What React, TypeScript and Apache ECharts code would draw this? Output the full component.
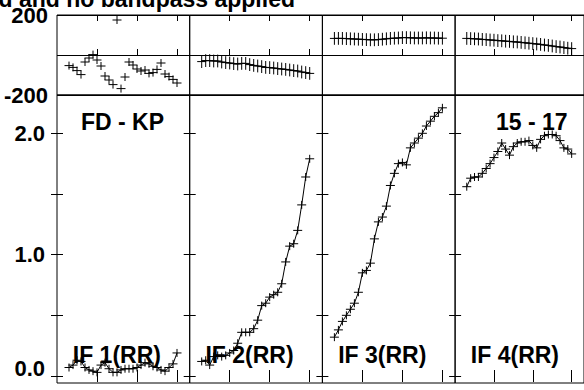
import React, { useEffect, useRef } from 'react';
import * as echarts from 'echarts';

const channels = [3, 4, 5, 6, 7, 8, 9, 10, 11, 12, 13, 14, 15, 16, 17, 18, 19, 20, 21, 22, 23, 24, 25, 26, 27, 28, 29, 30];

const ifLabels = ['IF 1(RR)', 'IF 2(RR)', 'IF 3(RR)', 'IF 4(RR)'];

const phaseIF1 = [-53, -62, -78, -98, -35, -15, 2, -25, -55, -105, -125, -148, 175, -168, -110, -35, -50, -70, -80, -75, -92, -88, -72, -40, -95, -108, -122, -140];
const phaseIF2 = [-33, -28, -28, -30, -30, -35, -38, -40, -43, -45, -42, -42, -48, -52, -55, -58, -62, -63, -65, -68, -70, -72, -75, -78, -80, -85, -88, -92];
const phaseIF3 = [83, 83, 83, 82, 81, 80, 79, 78, 77, 76, 76, 77, 79, 81, 83, 84, 85, 87, 87, 86, 85, 85, 85, 86, 85, 85, 84, 84];
const phaseIF4 = [83, 82, 81, 80, 78, 77, 75, 74, 72, 71, 69, 68, 66, 65, 63, 61, 59, 57, 55, 53, 50, 48, 45, 42, 40, 37, 34, 32];

const ampIF1 = [0.07, 0.09, 0.13, 0.12, 0.07, 0.05, 0.04, 0.03, 0.09, 0.11, 0.06, 0.03, 0.03, 0.05, 0.06, 0.06, 0.06, 0.07, 0.09, 0.11, 0.10, 0.08, 0.07, 0.05, 0.04, 0.07, 0.10, 0.19];
const ampIF2 = [0.12, 0.13, 0.09, 0.16, 0.17, 0.16, 0.17, 0.19, 0.21, 0.27, 0.36, 0.36, 0.36, 0.39, 0.46, 0.58, 0.60, 0.65, 0.67, 0.69, 0.76, 0.94, 1.07, 1.09, 1.20, 1.41, 1.64, 1.79];
const ampIF3 = [0.32, 0.38, 0.45, 0.50, 0.55, 0.60, 0.69, 0.85, 0.87, 0.93, 1.13, 1.27, 1.31, 1.40, 1.57, 1.67, 1.75, 1.76, 1.74, 1.88, 1.92, 1.96, 2.00, 2.06, 2.10, 2.14, 2.17, 2.21];
const ampIF4 = [1.56, 1.63, 1.64, 1.64, 1.67, 1.71, 1.75, 1.80, 1.85, 1.92, 1.87, 1.82, 1.89, 1.92, 1.93, 1.93, 1.94, 1.90, 1.88, 1.95, 1.98, 1.99, 1.99, 1.98, 1.94, 1.88, 1.87, 1.83];

const phaseSeries = [phaseIF1, phaseIF2, phaseIF3, phaseIF4];
const ampSeries = [ampIF1, ampIF2, ampIF3, ampIF4];
const phaseErrors = [0, 32, 32, 32];
const phaseHasLine = [false, true, true, true];

const phaseTickValues = [-200, 0, 200];
const ampTickValues = [0, 0.5, 1, 1.5, 2];
const ampLabelValues = [0, 1, 2];
const channelTickValues = [10, 20, 30];

const titleText = 'd and no bandpass applied';
const baselineText = 'FD - KP';
const timeText = '15 - 17';

// layout (pixels)
const PANEL_LEFT0 = 57;
const PANEL_W = 132.7;
const PHASE_TOP = 15;
const PHASE_H = 80;
const AMP_TOP = 95;
const AMP_H = 288;
const PX_PER_CH = 4;
const X_MAX = PANEL_W / PX_PER_CH;
const AMP_PX_PER_UNIT = 121.35;
const AMP_MIN = -7 / AMP_PX_PER_UNIT;
const AMP_MAX = AMP_MIN + AMP_H / AMP_PX_PER_UNIT;

const FONT = '"Liberation Sans", Arial, Helvetica, sans-serif';

function crossRender(halfW: number, minHalfH: number) {
  return (params: any, api: any) => {
    const x = api.value(0);
    const y = api.value(1);
    const e = api.value(2) || 0;
    const c = api.coord([x, y]);
    const t = api.coord([x, y + e]);
    const h = Math.max(minHalfH, Math.abs(c[1] - t[1]));
    const st = { stroke: '#000', lineWidth: 1 };
    return {
      type: 'group',
      children: [
        { type: 'line', shape: { x1: c[0] - halfW, y1: c[1], x2: c[0] + halfW, y2: c[1] }, style: st },
        { type: 'line', shape: { x1: c[0], y1: c[1] - h, x2: c[0], y2: c[1] + h }, style: st },
      ],
    };
  };
}

function buildOption() {
  const grid: any[] = [];
  const xAxis: any[] = [];
  const yAxis: any[] = [];
  const series: any[] = [];
  const graphic: any[] = [];

  const tickStyle = { color: '#000', width: 1 };

  for (let i = 0; i < 4; i++) {
    const left = PANEL_LEFT0 + i * PANEL_W;
    // phase grid
    const gp = grid.length;
    grid.push({ left, top: PHASE_TOP, width: PANEL_W, height: PHASE_H, show: true, borderColor: '#000', borderWidth: 1, backgroundColor: 'transparent', containLabel: false });
    const ga = grid.length;
    grid.push({ left, top: AMP_TOP, width: PANEL_W, height: AMP_H, show: true, borderColor: '#000', borderWidth: 1, backgroundColor: 'transparent', containLabel: false });

    const xIdx: Record<string, number> = {};
    for (const g of [gp, ga]) {
      for (const pos of ['bottom', 'top']) {
        xIdx[g + pos] = xAxis.length;
        xAxis.push({
          gridIndex: g,
          type: 'value',
          position: pos,
          min: 0,
          max: X_MAX,
          axisLine: { show: false },
          axisTick: { show: true, inside: true, length: 6, customValues: channelTickValues, lineStyle: tickStyle },
          axisLabel: { show: false },
          splitLine: { show: false },
        });
      }
    }

    // phase y axis
    const ypIdx = yAxis.length;
    yAxis.push({
      gridIndex: gp,
      type: 'value',
      position: 'left',
      min: -200,
      max: 200,
      interval: 200,
      axisLine: { show: false },
      axisTick: { show: false },
      axisLabel: {
        show: i === 0,
        margin: 9,
        color: '#000',
        fontSize: 22,
        fontWeight: 'bold',
        fontFamily: FONT,
        padding: [5, 0, 0, 0],
        formatter: (v: number) => (phaseTickValues.indexOf(v) >= 0 && v !== 0 ? String(v) : ''),
      },
      splitLine: { show: true, lineStyle: { color: '#000', width: 1 } },
    });

    // amp y axes
    const yaIdx = yAxis.length;
    yAxis.push({
      gridIndex: ga,
      type: 'value',
      position: 'left',
      min: AMP_MIN,
      max: AMP_MAX,
      axisLine: { show: false },
      axisTick: { show: true, inside: true, length: 6, customValues: ampTickValues, lineStyle: tickStyle },
      axisLabel: {
        show: i === 0,
        customValues: ampLabelValues,
        margin: 12,
        color: '#000',
        fontSize: 22,
        fontWeight: 'bold',
        fontFamily: FONT,
        formatter: (v: number) => (v === 0 ? '{low|0.0}' : v.toFixed(1)),
        rich: {
          low: { fontSize: 22, fontWeight: 'bold', fontFamily: FONT, color: '#000', padding: [0, 0, 16, 0] },
        },
      },
      splitLine: { show: false },
    });
    yAxis.push({
      gridIndex: ga,
      type: 'value',
      position: 'right',
      min: AMP_MIN,
      max: AMP_MAX,
      axisLine: { show: false },
      axisTick: { show: true, inside: true, length: 6, customValues: ampTickValues, lineStyle: tickStyle },
      axisLabel: { show: false },
      splitLine: { show: false },
    });

    const ph = phaseSeries[i];
    const am = ampSeries[i];
    const err = phaseErrors[i];

    if (phaseHasLine[i]) {
      series.push({
        type: 'line',
        xAxisIndex: xIdx[gp + 'bottom'],
        yAxisIndex: ypIdx,
        data: channels.map((c, k) => [c, ph[k]]),
        symbol: 'none',
        lineStyle: { color: '#000', width: 1 },
        silent: true,
      });
    }
    series.push({
      type: 'custom',
      xAxisIndex: xIdx[gp + 'bottom'],
      yAxisIndex: ypIdx,
      data: channels.map((c, k) => [c, ph[k], err]),
      encode: { x: 0, y: 1 },
      renderItem: crossRender(4.5, 4),
      clip: false,
      silent: true,
    });

    series.push({
      type: 'line',
      xAxisIndex: xIdx[ga + 'bottom'],
      yAxisIndex: yaIdx,
      data: channels.map((c, k) => [c, am[k]]),
      symbol: 'none',
      lineStyle: { color: '#000', width: 1 },
      silent: true,
    });
    series.push({
      type: 'custom',
      xAxisIndex: xIdx[ga + 'bottom'],
      yAxisIndex: yaIdx,
      data: channels.map((c, k) => [c, am[k], 0]),
      encode: { x: 0, y: 1 },
      renderItem: crossRender(4.5, 4),
      clip: false,
      silent: true,
    });

    graphic.push({
      type: 'text',
      x: left + PANEL_W / 2 - 6.5,
      y: 355,
      z: 100,
      style: {
        text: ifLabels[i],
        font: `bold 23px ${FONT}`,
        fill: '#000',
        align: 'center',
        verticalAlign: 'middle',
        textAlign: 'center',
        textVerticalAlign: 'middle',
      },
    });
  }

  const txt = (text: string, x: number, y: number, align: string) => ({
    type: 'text',
    x,
    y,
    z: 100,
    style: {
      text,
      font: `bold 23px ${FONT}`,
      fill: '#000',
      align,
      verticalAlign: 'middle',
      textAlign: align,
      textVerticalAlign: 'middle',
    },
  });

  graphic.push(txt(baselineText, 122.5, 121.5, 'center'));
  graphic.push(txt(timeText, 531.7, 121.5, 'center'));
  graphic.push(txt(titleText, 295, -1.5, 'right'));

  return {
    animation: false,
    backgroundColor: '#fff',
    grid,
    xAxis,
    yAxis,
    series,
    graphic,
  };
}

export default function App() {
  const ref = useRef<HTMLDivElement>(null);
  useEffect(() => {
    if (!ref.current) return;
    const chart = echarts.init(ref.current, undefined, { renderer: 'svg' });
    chart.setOption(buildOption() as any);
    return () => chart.dispose();
  }, []);
  return (
    <div
      ref={ref}
      style={{ position: 'fixed', left: 0, top: 0, width: 584, height: 390, background: '#fff' }}
    />
  );
}
